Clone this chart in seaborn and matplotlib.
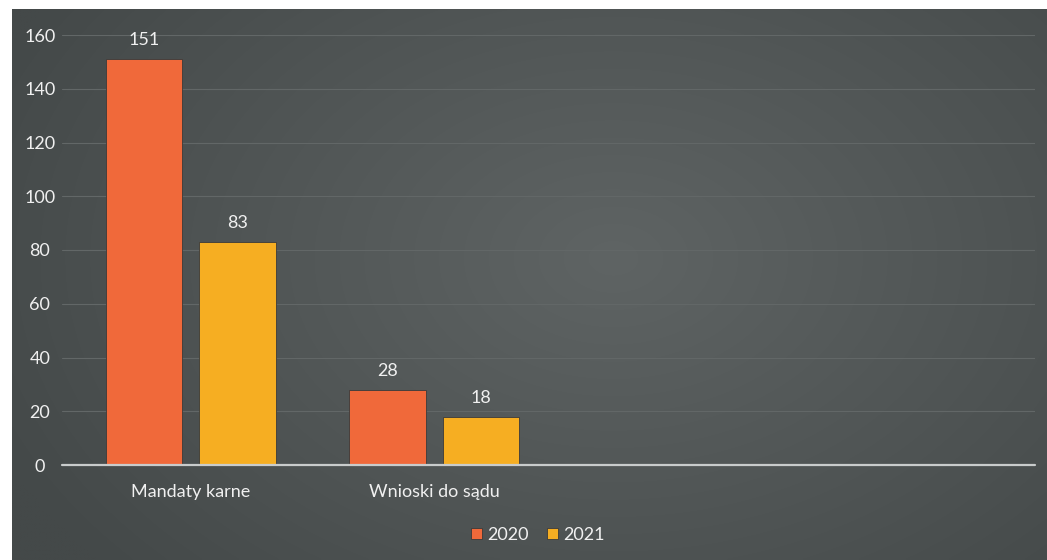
import numpy as np
import pandas as pd
import matplotlib
matplotlib.use("Agg")
import matplotlib.pyplot as plt
import seaborn as sns

# ---- data ----
categories = ["Mandaty karne", "Wnioski do sądu"]
years = ["2020", "2021"]
values_2020 = [151, 28]
values_2021 = [83, 18]
y_ticks = [0, 20, 40, 60, 80, 100, 120, 140, 160]

df = pd.DataFrame({
    "kategoria": categories * 2,
    "rok": [years[0]] * len(categories) + [years[1]] * len(categories),
    "wartosc": values_2020 + values_2021,
})

sns.set_theme(style="white")
plt.rcParams["font.family"] = ["Lato", "DejaVu Sans"]

W, H = 1047, 560
fig = plt.figure(figsize=(W / 100, H / 100), dpi=100, facecolor="white")

# background panel with soft radial gradient
bg_left, bg_top = 12 / W, 9 / H
bg = fig.add_axes([bg_left, 0, 1 - bg_left, 1 - bg_top], zorder=0)
ny, nx = 200, 400
yy, xx = np.mgrid[0:ny, 0:nx]
cx, cy = 0.58 * nx, 0.45 * ny
r = np.sqrt(((xx - cx) / nx) ** 2 + ((yy - cy) / (ny * 1.3)) ** 2)
r = np.clip(r / 0.65, 0, 1)
c_in = np.array([0x5f, 0x64, 0x64]) / 255
c_out = np.array([0x44, 0x49, 0x49]) / 255
img = c_in[None, None, :] * (1 - r[..., None]) + c_out[None, None, :] * r[..., None]
bg.imshow(img, aspect="auto", extent=[0, 1, 0, 1], interpolation="bilinear")
bg.set_axis_off()

# main axes
ax_left = 62 / W
ax_right = 1035 / W
ax_bottom = 1 - 465 / H
ax_top = 1 - 35 / H
ax = fig.add_axes([ax_left, ax_bottom, ax_right - ax_left, ax_top - ax_bottom], zorder=1)
ax.patch.set_alpha(0)

palette = {"2020": "#F0693A", "2021": "#F6AE22"}
sns.barplot(data=df, x="kategoria", y="wartosc", hue="rok", order=categories,
            hue_order=years, palette=palette, width=0.77, gap=0.18,
            edgecolor="#3a3a3a", linewidth=0.6, saturation=1, ax=ax, legend=True)

ax.set_xlim(-0.53, 3.47)
ax.set_ylim(0, 160)
ax.set_yticks(y_ticks)
ax.set_xlabel("")
ax.set_ylabel("")

for yv in y_ticks[1:]:
    ax.axhline(yv, color="#626767", lw=0.8, zorder=0.5)
ax.axhline(0, color="#c9cccc", lw=1.6, zorder=3, clip_on=False)

for s in ax.spines.values():
    s.set_visible(False)

txt = "#f0f0f0"
fs = 13
ax.tick_params(axis="y", length=0, pad=16, labelsize=fs, labelcolor=txt)
ax.tick_params(axis="x", length=0, pad=14, labelsize=fs, labelcolor=txt)
for lab in ax.get_yticklabels():
    lab.set_horizontalalignment("center")

for cont in ax.containers:
    ax.bar_label(cont, padding=8, color=txt, fontsize=fs)

leg = ax.get_legend()
handles, labels = ax.get_legend_handles_labels()
leg.remove()
fig.legend(handles, labels, loc="center", bbox_to_anchor=(538 / W, 1 - 535 / H),
           ncol=2, frameon=False, fontsize=fs, labelcolor=txt,
           handlelength=0.6, handleheight=0.6, handletextpad=0.3, columnspacing=1.0)

fig.savefig("out.png", dpi=100, facecolor="white")
